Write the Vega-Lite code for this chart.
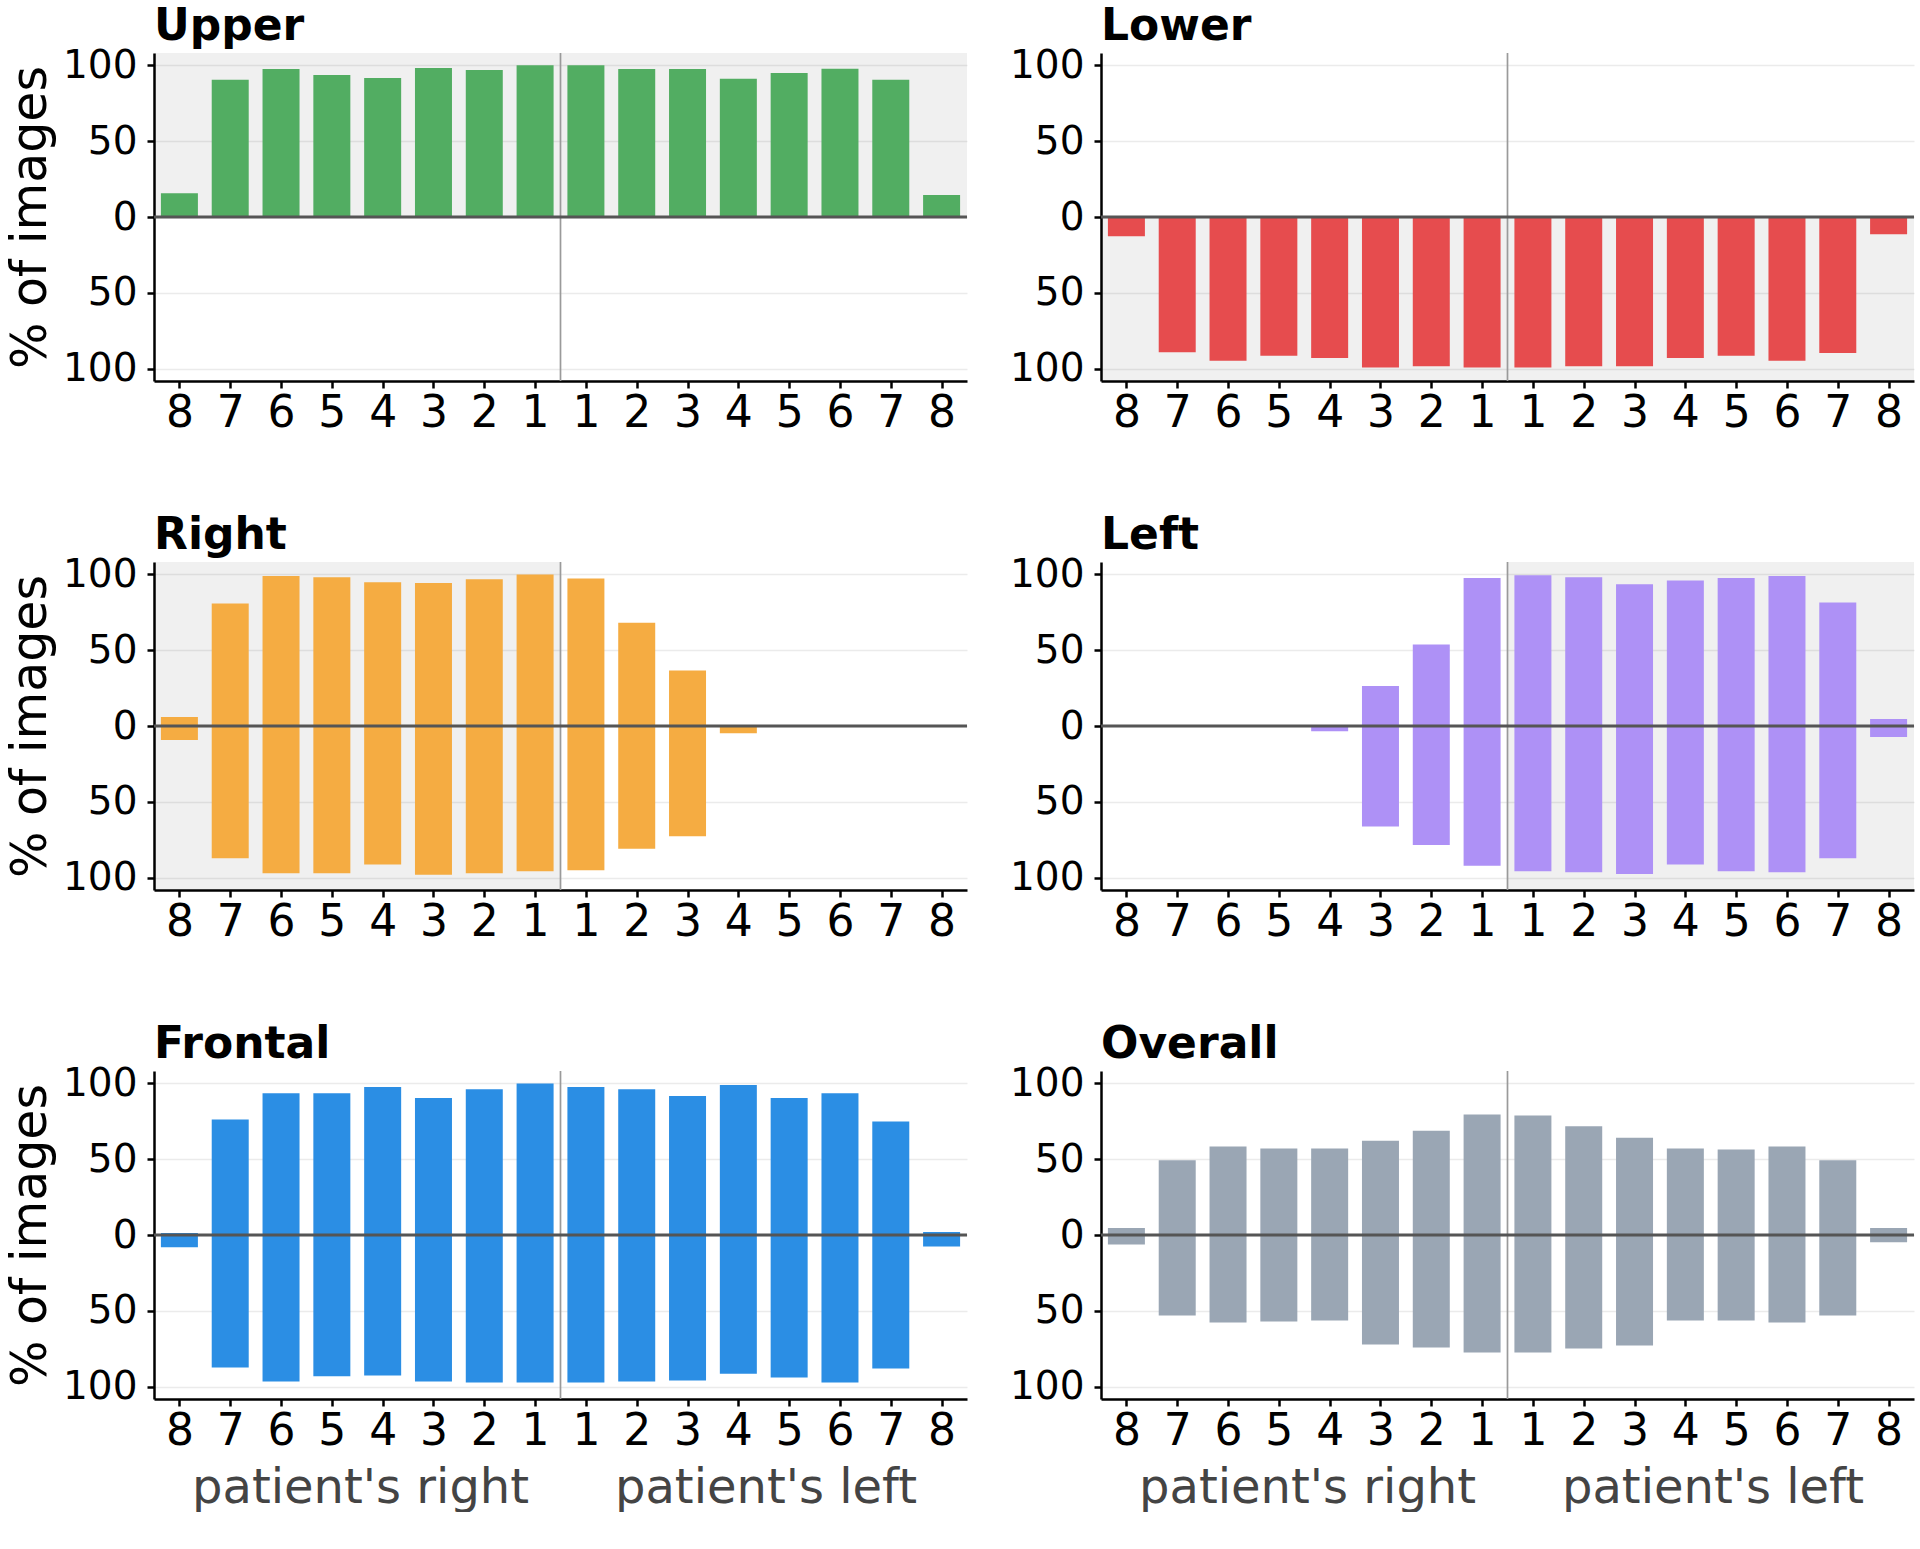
{
  "$schema": "https://vega.github.io/schema/vega-lite/v6.json",
  "padding": {"left": 6, "top": 5, "right": 0, "bottom": 0},
  "datasets": {
    "teeth": [
      {"panel": "Upper", "pos": 1, "up": 15.6, "low": 0},
      {"panel": "Upper", "pos": 2, "up": 90.4, "low": 0},
      {"panel": "Upper", "pos": 3, "up": 97.5, "low": 0},
      {"panel": "Upper", "pos": 4, "up": 93.5, "low": 0},
      {"panel": "Upper", "pos": 5, "up": 91.6, "low": 0},
      {"panel": "Upper", "pos": 6, "up": 98.1, "low": 0},
      {"panel": "Upper", "pos": 7, "up": 96.8, "low": 0},
      {"panel": "Upper", "pos": 8, "up": 100, "low": 0},
      {"panel": "Upper", "pos": 9, "up": 100, "low": 0},
      {"panel": "Upper", "pos": 10, "up": 97.5, "low": 0},
      {"panel": "Upper", "pos": 11, "up": 97.5, "low": 0},
      {"panel": "Upper", "pos": 12, "up": 91.1, "low": 0},
      {"panel": "Upper", "pos": 13, "up": 94.9, "low": 0},
      {"panel": "Upper", "pos": 14, "up": 97.6, "low": 0},
      {"panel": "Upper", "pos": 15, "up": 90.4, "low": 0},
      {"panel": "Upper", "pos": 16, "up": 14.5, "low": 0},
      {"panel": "Lower", "pos": 1, "up": 0, "low": -12.6},
      {"panel": "Lower", "pos": 2, "up": 0, "low": -89.1},
      {"panel": "Lower", "pos": 3, "up": 0, "low": -94.6},
      {"panel": "Lower", "pos": 4, "up": 0, "low": -91.3},
      {"panel": "Lower", "pos": 5, "up": 0, "low": -92.8},
      {"panel": "Lower", "pos": 6, "up": 0, "low": -99.1},
      {"panel": "Lower", "pos": 7, "up": 0, "low": -98.3},
      {"panel": "Lower", "pos": 8, "up": 0, "low": -99.1},
      {"panel": "Lower", "pos": 9, "up": 0, "low": -99.1},
      {"panel": "Lower", "pos": 10, "up": 0, "low": -98.3},
      {"panel": "Lower", "pos": 11, "up": 0, "low": -98.3},
      {"panel": "Lower", "pos": 12, "up": 0, "low": -92.8},
      {"panel": "Lower", "pos": 13, "up": 0, "low": -91.3},
      {"panel": "Lower", "pos": 14, "up": 0, "low": -94.6},
      {"panel": "Lower", "pos": 15, "up": 0, "low": -89.5},
      {"panel": "Lower", "pos": 16, "up": 0, "low": -11.3},
      {"panel": "Right", "pos": 1, "up": 5.9, "low": -9.2},
      {"panel": "Right", "pos": 2, "up": 80.7, "low": -87.1},
      {"panel": "Right", "pos": 3, "up": 98.7, "low": -96.9},
      {"panel": "Right", "pos": 4, "up": 98.0, "low": -96.9},
      {"panel": "Right", "pos": 5, "up": 94.7, "low": -91.2},
      {"panel": "Right", "pos": 6, "up": 94.1, "low": -98.0},
      {"panel": "Right", "pos": 7, "up": 96.7, "low": -96.9},
      {"panel": "Right", "pos": 8, "up": 99.8, "low": -95.6},
      {"panel": "Right", "pos": 9, "up": 97.1, "low": -95.0},
      {"panel": "Right", "pos": 10, "up": 68.0, "low": -80.9},
      {"panel": "Right", "pos": 11, "up": 36.6, "low": -72.6},
      {"panel": "Right", "pos": 12, "up": 0, "low": -4.8},
      {"panel": "Right", "pos": 13, "up": 0, "low": 0},
      {"panel": "Right", "pos": 14, "up": 0, "low": 0},
      {"panel": "Right", "pos": 15, "up": 0, "low": 0},
      {"panel": "Right", "pos": 16, "up": 0, "low": 0},
      {"panel": "Left", "pos": 1, "up": 0, "low": 0},
      {"panel": "Left", "pos": 2, "up": 0, "low": 0},
      {"panel": "Left", "pos": 3, "up": 0, "low": 0},
      {"panel": "Left", "pos": 4, "up": 0, "low": 0},
      {"panel": "Left", "pos": 5, "up": 0, "low": -3.5},
      {"panel": "Left", "pos": 6, "up": 26.3, "low": -66.2},
      {"panel": "Left", "pos": 7, "up": 53.7, "low": -78.3},
      {"panel": "Left", "pos": 8, "up": 97.4, "low": -92.1},
      {"panel": "Left", "pos": 9, "up": 99.3, "low": -95.6},
      {"panel": "Left", "pos": 10, "up": 98.0, "low": -96.3},
      {"panel": "Left", "pos": 11, "up": 93.4, "low": -97.4},
      {"panel": "Left", "pos": 12, "up": 95.8, "low": -91.2},
      {"panel": "Left", "pos": 13, "up": 97.4, "low": -95.6},
      {"panel": "Left", "pos": 14, "up": 98.7, "low": -96.3},
      {"panel": "Left", "pos": 15, "up": 81.4, "low": -87.1},
      {"panel": "Left", "pos": 16, "up": 4.6, "low": -7.2},
      {"panel": "Frontal", "pos": 1, "up": 1.3, "low": -8.1},
      {"panel": "Frontal", "pos": 2, "up": 76.0, "low": -87.3},
      {"panel": "Frontal", "pos": 3, "up": 93.4, "low": -96.5},
      {"panel": "Frontal", "pos": 4, "up": 93.4, "low": -93.0},
      {"panel": "Frontal", "pos": 5, "up": 97.4, "low": -92.5},
      {"panel": "Frontal", "pos": 6, "up": 90.3, "low": -96.5},
      {"panel": "Frontal", "pos": 7, "up": 96.0, "low": -97.1},
      {"panel": "Frontal", "pos": 8, "up": 99.8, "low": -97.1},
      {"panel": "Frontal", "pos": 9, "up": 97.4, "low": -97.1},
      {"panel": "Frontal", "pos": 10, "up": 96.0, "low": -96.5},
      {"panel": "Frontal", "pos": 11, "up": 91.6, "low": -95.8},
      {"panel": "Frontal", "pos": 12, "up": 98.7, "low": -91.4},
      {"panel": "Frontal", "pos": 13, "up": 90.3, "low": -93.8},
      {"panel": "Frontal", "pos": 14, "up": 93.4, "low": -97.1},
      {"panel": "Frontal", "pos": 15, "up": 74.7, "low": -87.9},
      {"panel": "Frontal", "pos": 16, "up": 2.0, "low": -7.5},
      {"panel": "Overall", "pos": 1, "up": 4.6, "low": -6.2},
      {"panel": "Overall", "pos": 2, "up": 49.2, "low": -53.0},
      {"panel": "Overall", "pos": 3, "up": 58.2, "low": -57.6},
      {"panel": "Overall", "pos": 4, "up": 56.9, "low": -56.9},
      {"panel": "Overall", "pos": 5, "up": 56.9, "low": -56.3},
      {"panel": "Overall", "pos": 6, "up": 62.0, "low": -72.1},
      {"panel": "Overall", "pos": 7, "up": 68.6, "low": -74.1},
      {"panel": "Overall", "pos": 8, "up": 79.3, "low": -77.4},
      {"panel": "Overall", "pos": 9, "up": 78.7, "low": -77.4},
      {"panel": "Overall", "pos": 10, "up": 71.6, "low": -74.7},
      {"panel": "Overall", "pos": 11, "up": 64.0, "low": -72.7},
      {"panel": "Overall", "pos": 12, "up": 56.9, "low": -56.3},
      {"panel": "Overall", "pos": 13, "up": 56.3, "low": -56.3},
      {"panel": "Overall", "pos": 14, "up": 58.2, "low": -57.6},
      {"panel": "Overall", "pos": 15, "up": 49.2, "low": -53.0},
      {"panel": "Overall", "pos": 16, "up": 4.6, "low": -4.8}
    ],
    "shade": [
      {"panel": "Upper", "pos": 0.5, "pos2": 16.5, "up": 108, "low": 0},
      {"panel": "Lower", "pos": 0.5, "pos2": 16.5, "up": 0, "low": -108},
      {"panel": "Right", "pos": 0.5, "pos2": 8.5, "up": 108, "low": -108},
      {"panel": "Left", "pos": 8.5, "pos2": 16.5, "up": 108, "low": -108}
    ],
    "midline": [{"pos": 8.5}],
    "zeroline": [{"up": 0}]
  },
  "spacing": 79,
  "vconcat": [
    {
      "spacing": 40,
      "hconcat": [
        {
          "width": 813, "height": 328,
          "title": "Upper",
          "layer": [
            {"data": {"name": "shade"}, "transform": [{"filter": "datum.panel == 'Upper'"}],
             "mark": {"type": "rect", "fill": "#000", "fillOpacity": 0.06},
             "encoding": {
               "x": {"field": "pos", "type": "quantitative", "scale": {"domain": [0.5, 16.5], "nice": false, "zero": false, "padding": 0}},
               "x2": {"field": "pos2"},
               "y": {"field": "up", "type": "quantitative", "scale": {"domain": [-108, 108], "nice": false, "zero": false, "padding": 0}},
               "y2": {"field": "low"}}},
            {"data": {"name": "teeth"}, "transform": [{"filter": "datum.panel == 'Upper'"}],
             "mark": {"type": "bar", "width": 37, "color": "#52ad62"},
             "encoding": {
               "x": {"field": "pos", "type": "quantitative", "scale": {"domain": [0.5, 16.5], "nice": false, "zero": false, "padding": 0},
                     "axis": {"values": [1, 2, 3, 4, 5, 6, 7, 8, 9, 10, 11, 12, 13, 14, 15, 16], "labelExpr": "datum.value <= 8 ? 9 - datum.value : datum.value - 8", "grid": false, "title": null}},
               "y": {"field": "up", "type": "quantitative", "scale": {"domain": [-108, 108], "nice": false, "zero": false, "padding": 0},
                     "axis": {"values": [-100, -50, 0, 50, 100], "labelExpr": "abs(datum.value)", "title": "% of images"}},
               "y2": {"field": "low"}}},
            {"data": {"name": "midline"}, "mark": {"type": "rule", "color": "#9a9a9a", "strokeWidth": 1.7},
             "encoding": {"x": {"field": "pos", "type": "quantitative", "scale": {"domain": [0.5, 16.5], "nice": false, "zero": false, "padding": 0}}}},
            {"data": {"name": "zeroline"}, "mark": {"type": "rule", "color": "#555555", "strokeWidth": 3},
             "encoding": {"y": {"field": "up", "type": "quantitative", "scale": {"domain": [-108, 108], "nice": false, "zero": false, "padding": 0}}}}
          ]
        },
        {
          "width": 813, "height": 328,
          "title": "Lower",
          "layer": [
            {"data": {"name": "shade"}, "transform": [{"filter": "datum.panel == 'Lower'"}],
             "mark": {"type": "rect", "fill": "#000", "fillOpacity": 0.06},
             "encoding": {
               "x": {"field": "pos", "type": "quantitative", "scale": {"domain": [0.5, 16.5], "nice": false, "zero": false, "padding": 0}},
               "x2": {"field": "pos2"},
               "y": {"field": "up", "type": "quantitative", "scale": {"domain": [-108, 108], "nice": false, "zero": false, "padding": 0}},
               "y2": {"field": "low"}}},
            {"data": {"name": "teeth"}, "transform": [{"filter": "datum.panel == 'Lower'"}],
             "mark": {"type": "bar", "width": 37, "color": "#e64c4e"},
             "encoding": {
               "x": {"field": "pos", "type": "quantitative", "scale": {"domain": [0.5, 16.5], "nice": false, "zero": false, "padding": 0},
                     "axis": {"values": [1, 2, 3, 4, 5, 6, 7, 8, 9, 10, 11, 12, 13, 14, 15, 16], "labelExpr": "datum.value <= 8 ? 9 - datum.value : datum.value - 8", "grid": false, "title": null}},
               "y": {"field": "up", "type": "quantitative", "scale": {"domain": [-108, 108], "nice": false, "zero": false, "padding": 0},
                     "axis": {"values": [-100, -50, 0, 50, 100], "labelExpr": "abs(datum.value)", "title": null}},
               "y2": {"field": "low"}}},
            {"data": {"name": "midline"}, "mark": {"type": "rule", "color": "#9a9a9a", "strokeWidth": 1.7},
             "encoding": {"x": {"field": "pos", "type": "quantitative", "scale": {"domain": [0.5, 16.5], "nice": false, "zero": false, "padding": 0}}}},
            {"data": {"name": "zeroline"}, "mark": {"type": "rule", "color": "#555555", "strokeWidth": 3},
             "encoding": {"y": {"field": "up", "type": "quantitative", "scale": {"domain": [-108, 108], "nice": false, "zero": false, "padding": 0}}}}
          ]
        }
      ]
    },
    {
      "spacing": 40,
      "hconcat": [
        {
          "width": 813, "height": 328,
          "title": "Right",
          "layer": [
            {"data": {"name": "shade"}, "transform": [{"filter": "datum.panel == 'Right'"}],
             "mark": {"type": "rect", "fill": "#000", "fillOpacity": 0.06},
             "encoding": {
               "x": {"field": "pos", "type": "quantitative", "scale": {"domain": [0.5, 16.5], "nice": false, "zero": false, "padding": 0}},
               "x2": {"field": "pos2"},
               "y": {"field": "up", "type": "quantitative", "scale": {"domain": [-108, 108], "nice": false, "zero": false, "padding": 0}},
               "y2": {"field": "low"}}},
            {"data": {"name": "teeth"}, "transform": [{"filter": "datum.panel == 'Right'"}],
             "mark": {"type": "bar", "width": 37, "color": "#f5ac42"},
             "encoding": {
               "x": {"field": "pos", "type": "quantitative", "scale": {"domain": [0.5, 16.5], "nice": false, "zero": false, "padding": 0},
                     "axis": {"values": [1, 2, 3, 4, 5, 6, 7, 8, 9, 10, 11, 12, 13, 14, 15, 16], "labelExpr": "datum.value <= 8 ? 9 - datum.value : datum.value - 8", "grid": false, "title": null}},
               "y": {"field": "up", "type": "quantitative", "scale": {"domain": [-108, 108], "nice": false, "zero": false, "padding": 0},
                     "axis": {"values": [-100, -50, 0, 50, 100], "labelExpr": "abs(datum.value)", "title": "% of images"}},
               "y2": {"field": "low"}}},
            {"data": {"name": "midline"}, "mark": {"type": "rule", "color": "#9a9a9a", "strokeWidth": 1.7},
             "encoding": {"x": {"field": "pos", "type": "quantitative", "scale": {"domain": [0.5, 16.5], "nice": false, "zero": false, "padding": 0}}}},
            {"data": {"name": "zeroline"}, "mark": {"type": "rule", "color": "#555555", "strokeWidth": 3},
             "encoding": {"y": {"field": "up", "type": "quantitative", "scale": {"domain": [-108, 108], "nice": false, "zero": false, "padding": 0}}}}
          ]
        },
        {
          "width": 813, "height": 328,
          "title": "Left",
          "layer": [
            {"data": {"name": "shade"}, "transform": [{"filter": "datum.panel == 'Left'"}],
             "mark": {"type": "rect", "fill": "#000", "fillOpacity": 0.06},
             "encoding": {
               "x": {"field": "pos", "type": "quantitative", "scale": {"domain": [0.5, 16.5], "nice": false, "zero": false, "padding": 0}},
               "x2": {"field": "pos2"},
               "y": {"field": "up", "type": "quantitative", "scale": {"domain": [-108, 108], "nice": false, "zero": false, "padding": 0}},
               "y2": {"field": "low"}}},
            {"data": {"name": "teeth"}, "transform": [{"filter": "datum.panel == 'Left'"}],
             "mark": {"type": "bar", "width": 37, "color": "#ae91f6"},
             "encoding": {
               "x": {"field": "pos", "type": "quantitative", "scale": {"domain": [0.5, 16.5], "nice": false, "zero": false, "padding": 0},
                     "axis": {"values": [1, 2, 3, 4, 5, 6, 7, 8, 9, 10, 11, 12, 13, 14, 15, 16], "labelExpr": "datum.value <= 8 ? 9 - datum.value : datum.value - 8", "grid": false, "title": null}},
               "y": {"field": "up", "type": "quantitative", "scale": {"domain": [-108, 108], "nice": false, "zero": false, "padding": 0},
                     "axis": {"values": [-100, -50, 0, 50, 100], "labelExpr": "abs(datum.value)", "title": null}},
               "y2": {"field": "low"}}},
            {"data": {"name": "midline"}, "mark": {"type": "rule", "color": "#9a9a9a", "strokeWidth": 1.7},
             "encoding": {"x": {"field": "pos", "type": "quantitative", "scale": {"domain": [0.5, 16.5], "nice": false, "zero": false, "padding": 0}}}},
            {"data": {"name": "zeroline"}, "mark": {"type": "rule", "color": "#555555", "strokeWidth": 3},
             "encoding": {"y": {"field": "up", "type": "quantitative", "scale": {"domain": [-108, 108], "nice": false, "zero": false, "padding": 0}}}}
          ]
        }
      ]
    },
    {
      "spacing": 40,
      "hconcat": [
        {
          "width": 813, "height": 328,
          "title": "Frontal",
          "layer": [
            {"data": {"name": "teeth"}, "transform": [{"filter": "datum.panel == 'Frontal'"}],
             "mark": {"type": "bar", "width": 37, "color": "#2b8ee4"},
             "encoding": {
               "x": {"field": "pos", "type": "quantitative", "scale": {"domain": [0.5, 16.5], "nice": false, "zero": false, "padding": 0},
                     "axis": {"values": [1, 2, 3, 4, 5, 6, 7, 8, 9, 10, 11, 12, 13, 14, 15, 16], "labelExpr": "datum.value <= 8 ? 9 - datum.value : datum.value - 8", "grid": false, "title": "patient's right\u00a0\u00a0\u00a0\u00a0\u00a0\u2009patient's left", "titleX": 400}},
               "y": {"field": "up", "type": "quantitative", "scale": {"domain": [-108, 108], "nice": false, "zero": false, "padding": 0},
                     "axis": {"values": [-100, -50, 0, 50, 100], "labelExpr": "abs(datum.value)", "title": "% of images"}},
               "y2": {"field": "low"}}},
            {"data": {"name": "midline"}, "mark": {"type": "rule", "color": "#9a9a9a", "strokeWidth": 1.7},
             "encoding": {"x": {"field": "pos", "type": "quantitative", "scale": {"domain": [0.5, 16.5], "nice": false, "zero": false, "padding": 0}}}},
            {"data": {"name": "zeroline"}, "mark": {"type": "rule", "color": "#555555", "strokeWidth": 3},
             "encoding": {"y": {"field": "up", "type": "quantitative", "scale": {"domain": [-108, 108], "nice": false, "zero": false, "padding": 0}}}}
          ]
        },
        {
          "width": 813, "height": 328,
          "title": "Overall",
          "layer": [
            {"data": {"name": "teeth"}, "transform": [{"filter": "datum.panel == 'Overall'"}],
             "mark": {"type": "bar", "width": 37, "color": "#9aa6b4"},
             "encoding": {
               "x": {"field": "pos", "type": "quantitative", "scale": {"domain": [0.5, 16.5], "nice": false, "zero": false, "padding": 0},
                     "axis": {"values": [1, 2, 3, 4, 5, 6, 7, 8, 9, 10, 11, 12, 13, 14, 15, 16], "labelExpr": "datum.value <= 8 ? 9 - datum.value : datum.value - 8", "grid": false, "title": "patient's right\u00a0\u00a0\u00a0\u00a0\u00a0\u2009patient's left", "titleX": 400}},
               "y": {"field": "up", "type": "quantitative", "scale": {"domain": [-108, 108], "nice": false, "zero": false, "padding": 0},
                     "axis": {"values": [-100, -50, 0, 50, 100], "labelExpr": "abs(datum.value)", "title": null}},
               "y2": {"field": "low"}}},
            {"data": {"name": "midline"}, "mark": {"type": "rule", "color": "#9a9a9a", "strokeWidth": 1.7},
             "encoding": {"x": {"field": "pos", "type": "quantitative", "scale": {"domain": [0.5, 16.5], "nice": false, "zero": false, "padding": 0}}}},
            {"data": {"name": "zeroline"}, "mark": {"type": "rule", "color": "#555555", "strokeWidth": 3},
             "encoding": {"y": {"field": "up", "type": "quantitative", "scale": {"domain": [-108, 108], "nice": false, "zero": false, "padding": 0}}}}
          ]
        }
      ]
    }
  ],
  "config": {
    "font": "DejaVu Sans",
    "background": "#ffffff",
    "view": {"stroke": null},
    "axis": {
      "domainColor": "#000000", "domainWidth": 2.5,
      "tickColor": "#000000", "tickWidth": 2.5, "tickSize": 7,
      "labelColor": "#000000", "titleColor": "#000000", "titleFontWeight": "normal",
      "gridColor": "#ebebeb", "gridWidth": 1.4
    },
    "axisX": {"labelFontSize": 44, "labelPadding": 3, "labelFlush": false, "titleFontSize": 48, "titleColor": "#444444", "titlePadding": 11},
    "axisY": {"labelFontSize": 39, "labelPadding": 10, "titleFontSize": 49, "titlePadding": 7, "grid": true},
    "title": {"fontSize": 44, "fontWeight": "bold", "anchor": "start", "frame": "group", "color": "#000000", "offset": -3}
  }
}
